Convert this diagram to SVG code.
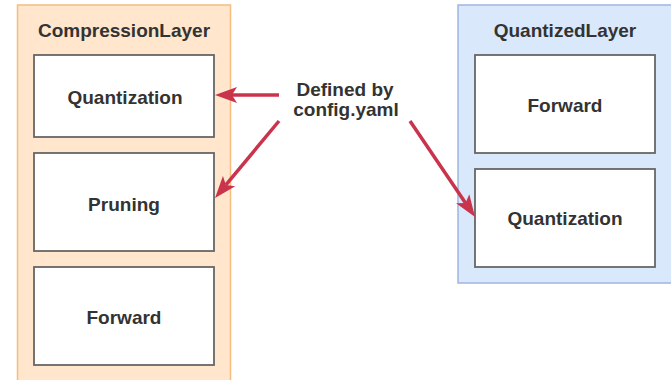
<svg xmlns="http://www.w3.org/2000/svg" width="671" height="380" viewBox="0 0 671 380">
  <defs>
    <marker id="head" viewBox="0 0 22 18" refX="5" refY="9" markerWidth="22" markerHeight="18" markerUnits="userSpaceOnUse" orient="auto">
      <path d="M0,1 L22,9 L0,17 L5,9 Z" fill="#c9344c"/>
    </marker>
  </defs>
  <style>
    .txt { font-family: "Liberation Sans", Arial, sans-serif; font-weight: bold; font-size: 19px; fill: #333333; text-anchor: middle; }
    .orange { fill: #ffe6cc; stroke: #f6bd7e; stroke-width: 1.5; }
    .blue { fill: #dae8fc; stroke: #9db6df; stroke-width: 1.5; }
    .box { fill: #ffffff; stroke: #666666; stroke-width: 1.8; }
    .link { fill: none; stroke: #c9344c; stroke-width: 3.5; marker-end: url(#head); }
  </style>

  <rect width="671" height="380" fill="#ffffff"/>

  <g id="compression-layer">
    <rect class="orange" x="17.5" y="5" width="213" height="390"/>
    <text class="txt" x="124" y="37">CompressionLayer</text>
  </g>
  <g id="cl-quantization">
    <rect class="box" x="34" y="55" width="180" height="82"/>
    <text class="txt" x="125" y="104">Quantization</text>
  </g>
  <g id="cl-pruning">
    <rect class="box" x="34" y="153" width="180" height="98"/>
    <text class="txt" x="124" y="211">Pruning</text>
  </g>
  <g id="cl-forward">
    <rect class="box" x="34" y="267" width="180" height="98"/>
    <text class="txt" x="124" y="324">Forward</text>
  </g>

  <g id="quantized-layer">
    <rect class="blue" x="458" y="5" width="230" height="278"/>
    <text class="txt" x="565" y="37">QuantizedLayer</text>
  </g>
  <g id="ql-forward">
    <rect class="box" x="475" y="55" width="180" height="98"/>
    <text class="txt" x="565" y="112">Forward</text>
  </g>
  <g id="ql-quantization">
    <rect class="box" x="475" y="169" width="180" height="98"/>
    <text class="txt" x="565" y="225">Quantization</text>
  </g>

  <g id="config-label">
    <text class="txt" x="345" y="96">Defined by</text>
    <text class="txt" x="346" y="116">config.yaml</text>
  </g>

  <g id="connectors">
    <line class="link" x1="279" y1="95" x2="232" y2="95"/>
    <line class="link" x1="279" y1="121" x2="225.9" y2="184.9"/>
    <line class="link" x1="410" y1="121" x2="465.5" y2="202.9"/>
  </g>
</svg>
